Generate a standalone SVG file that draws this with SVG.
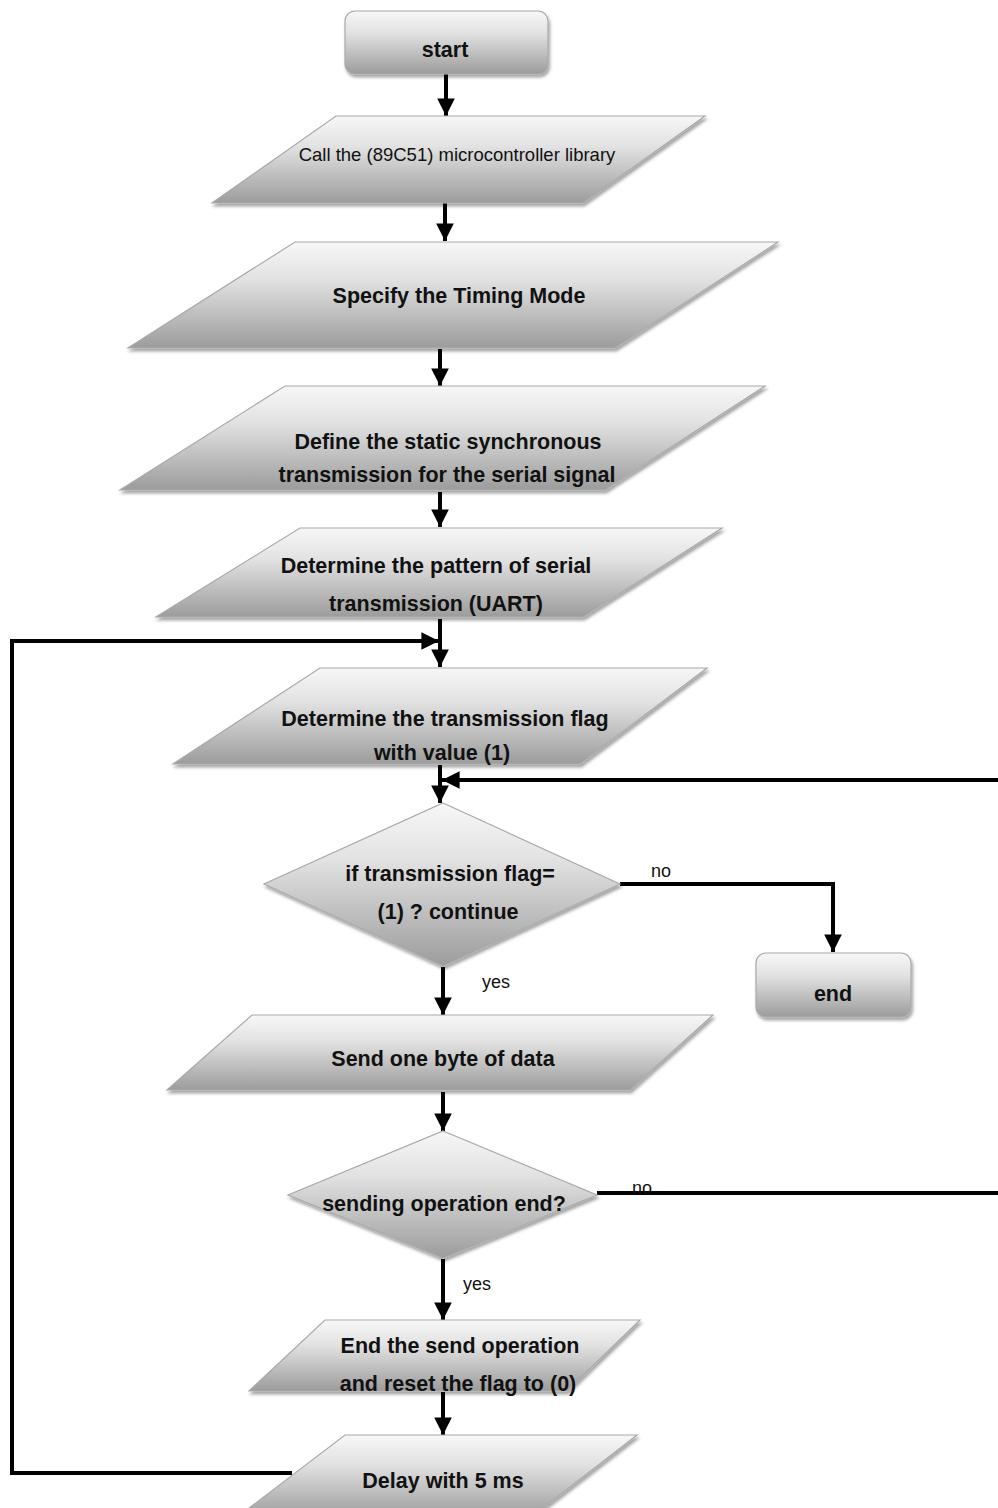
<svg xmlns="http://www.w3.org/2000/svg" width="998" height="1508" viewBox="0 0 998 1508">
  <style>
    .shape { fill: url(#grad); stroke: #a9a9a9; stroke-width: 1.2; filter: url(#shadow); }
    .lbl { font-family: "Liberation Sans", Arial, sans-serif; font-weight: bold; font-size: 21.5px; fill: #111; text-anchor: middle; }
    .lbl-reg { font-family: "Liberation Sans", Arial, sans-serif; font-size: 18.5px; fill: #111; text-anchor: middle; }
    .side { font-family: "Liberation Sans", Arial, sans-serif; font-size: 18px; fill: #111; text-anchor: start; }
    .wire { fill: none; stroke: #000; stroke-width: 4; }
  </style>
  <defs>
    <linearGradient id="grad" x1="0" y1="0" x2="0" y2="1">
      <stop offset="0" stop-color="#f7f7f7"/>
      <stop offset="0.35" stop-color="#e2e2e2"/>
      <stop offset="1" stop-color="#9c9c9c"/>
    </linearGradient>
    <filter id="shadow" x="-10%" y="-10%" width="120%" height="130%">
      <feDropShadow dx="1.5" dy="3" stdDeviation="1.5" flood-color="#000" flood-opacity="0.35"/>
    </filter>
    <marker id="arrow" viewBox="0 0 10 10" refX="10" refY="5" markerWidth="4.4" markerHeight="4.8" orient="auto" markerUnits="strokeWidth">
      <path d="M0,0 L10,5 L0,10 Z" fill="#000"/>
    </marker>
  </defs>

  <!-- connectors -->
  <g id="connectors">
    <path class="wire" d="M446,74 V116" marker-end="url(#arrow)"/>
    <path class="wire" d="M445,203 V241" marker-end="url(#arrow)"/>
    <path class="wire" d="M440,349 V386" marker-end="url(#arrow)"/>
    <path class="wire" d="M440,492 V527" marker-end="url(#arrow)"/>
    <path class="wire" d="M440,619 V667" marker-end="url(#arrow)"/>
    <path class="wire" d="M292,1473 H12 V641 H439" marker-end="url(#arrow)"/>
    <path class="wire" d="M440,765 V803" marker-end="url(#arrow)"/>
    <path class="wire" d="M597,1193 H1004 V780 H442" marker-end="url(#arrow)"/>
    <path class="wire" d="M620,884 H833 V952" marker-end="url(#arrow)"/>
    <path class="wire" d="M443,967 V1015" marker-end="url(#arrow)"/>
    <path class="wire" d="M443,1092 V1131" marker-end="url(#arrow)"/>
    <path class="wire" d="M443,1259 V1320" marker-end="url(#arrow)"/>
    <path class="wire" d="M443,1392 V1435" marker-end="url(#arrow)"/>
    <text class="side" x="651" y="877">no</text>
    <text class="side" x="482" y="988">yes</text>
    <text class="side" x="632" y="1194">no</text>
    <text class="side" x="463" y="1290">yes</text>
  </g>

  <g id="start">
    <rect class="shape" x="345" y="11" width="203" height="63" rx="10"/>
    <text class="lbl" x="445" y="57">start</text>
  </g>

  <g id="call-library">
    <polygon class="shape" points="336,116 705,116 583,203 212,203"/>
    <text class="lbl-reg" x="457" y="161">Call the (89C51) microcontroller library</text>
  </g>

  <g id="timing-mode">
    <polygon class="shape" points="295,242 778,242 615,348 128,348"/>
    <text class="lbl" x="459" y="303">Specify the Timing Mode</text>
  </g>

  <g id="sync-transmission">
    <polygon class="shape" points="285,386 765,386 605,490 120,490"/>
    <text class="lbl" x="448" y="449">Define the static synchronous</text>
    <text class="lbl" x="447" y="482">transmission for the serial signal</text>
  </g>

  <g id="uart-pattern">
    <polygon class="shape" points="300,528 722,528 583,617 156,617"/>
    <text class="lbl" x="436" y="573">Determine the pattern of serial</text>
    <text class="lbl" x="436" y="611">transmission (UART)</text>
  </g>

  <g id="set-flag">
    <polygon class="shape" points="320,668 707,668 580,764 173,764"/>
    <text class="lbl" x="445" y="726">Determine the transmission flag</text>
    <text class="lbl" x="442" y="760">with value (1)</text>
  </g>

  <g id="check-flag">
    <polygon class="shape" points="443,803 620,884 443,966 264,884"/>
    <text class="lbl" x="450" y="881">if transmission flag=</text>
    <text class="lbl" x="448" y="919">(1) ? continue</text>
  </g>

  <g id="end">
    <rect class="shape" x="756" y="953" width="155" height="64" rx="10"/>
    <text class="lbl" x="833" y="1001">end</text>
  </g>

  <g id="send-byte">
    <polygon class="shape" points="252,1015 713,1015 630,1090 167,1090"/>
    <text class="lbl" x="443" y="1066">Send one byte of data</text>
  </g>

  <g id="check-sent">
    <polygon class="shape" points="443,1131 597,1195 443,1258 288,1195"/>
    <text class="lbl" x="444" y="1211">sending operation end?</text>
  </g>

  <g id="reset-flag">
    <polygon class="shape" points="325,1320 640,1320 567,1391 249,1391"/>
    <text class="lbl" x="460" y="1353">End the send operation</text>
    <text class="lbl" x="458" y="1391">and reset the flag to (0)</text>
  </g>

  <g id="delay">
    <polygon class="shape" points="345,1435 637,1435 530,1518 236,1518"/>
    <text class="lbl" x="443" y="1488">Delay with 5 ms</text>
  </g>
</svg>
